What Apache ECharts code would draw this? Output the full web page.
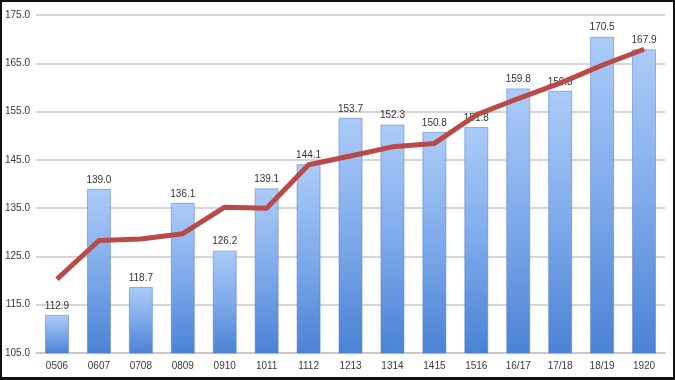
<!DOCTYPE html>
<html>
<head>
<meta charset="utf-8">
<script src="https://cdn.jsdelivr.net/npm/echarts@6/dist/echarts.min.js"></script>
<style>
html,body{margin:0;padding:0;background:#fff;}
#frame{width:675px;height:380px;box-sizing:border-box;border:2px solid #111;border-bottom-width:3px;border-right-width:2px;}
#chart{width:100%;height:100%;}
</style>
</head>
<body>
<div id="frame"><div id="chart"></div></div>
<script>
var categories = ['0506','0607','0708','0809','0910','1011','1112','1213','1314','1415','1516','16/17','17/18','18/19','1920'];
var barValues = [112.9,139.0,118.7,136.1,126.2,139.1,144.1,153.7,152.3,150.8,151.8,159.8,159.3,170.5,167.9];
var lineValues = [120.3,128.3,128.6,129.7,135.2,135.0,144.0,145.8,147.7,148.4,154.3,157.7,160.9,164.6,167.9];
var yMin = 105, yMax = 175, yStep = 10;

var chart = echarts.init(document.getElementById('chart'));
chart.setOption({
  animation: false,
  backgroundColor: '#ffffff',
  grid: {left: 34, right: 8, top: 13, bottom: 24},
  xAxis: {
    type: 'category',
    data: categories,
    axisLine: {lineStyle: {color: '#c4c4c4', width: 1.5}},
    axisTick: {show: false},
    axisLabel: {color: '#3a3a3a', fontSize: 10, fontFamily: 'Liberation Sans', margin: 8}
  },
  yAxis: {
    type: 'value',
    min: yMin, max: yMax, interval: yStep,
    axisLine: {show: false},
    axisTick: {show: false},
    axisLabel: {color: '#3a3a3a', fontSize: 10, fontFamily: 'Liberation Sans', margin: 6,
      formatter: function (v) { return v.toFixed(1); }},
    splitLine: {lineStyle: {color: '#c8c8c8', width: 1.5}}
  },
  series: [
    {
      type: 'bar',
      data: barValues,
      barWidth: 24,
      z: 2,
      itemStyle: {
        color: new echarts.graphic.LinearGradient(0, 0, 0, 1, [
          {offset: 0, color: '#acccf8'},
          {offset: 0.5, color: '#7eaaeb'},
          {offset: 1, color: '#4a82d4'}
        ]),
        borderColor: 'rgba(90,130,200,0.55)',
        borderWidth: 1
      },
      label: {
        show: true, position: 'top', distance: 4,
        color: '#333', fontSize: 10, fontFamily: 'Liberation Sans',
        formatter: function (p) { return p.value.toFixed(1); }
      }
    },
    {
      type: 'line',
      data: lineValues,
      z: 5,
      symbol: 'none',
      lineStyle: {color: '#b94a47', width: 5},
      itemStyle: {color: '#b94a47'}
    }
  ]
});
</script>
</body>
</html>
